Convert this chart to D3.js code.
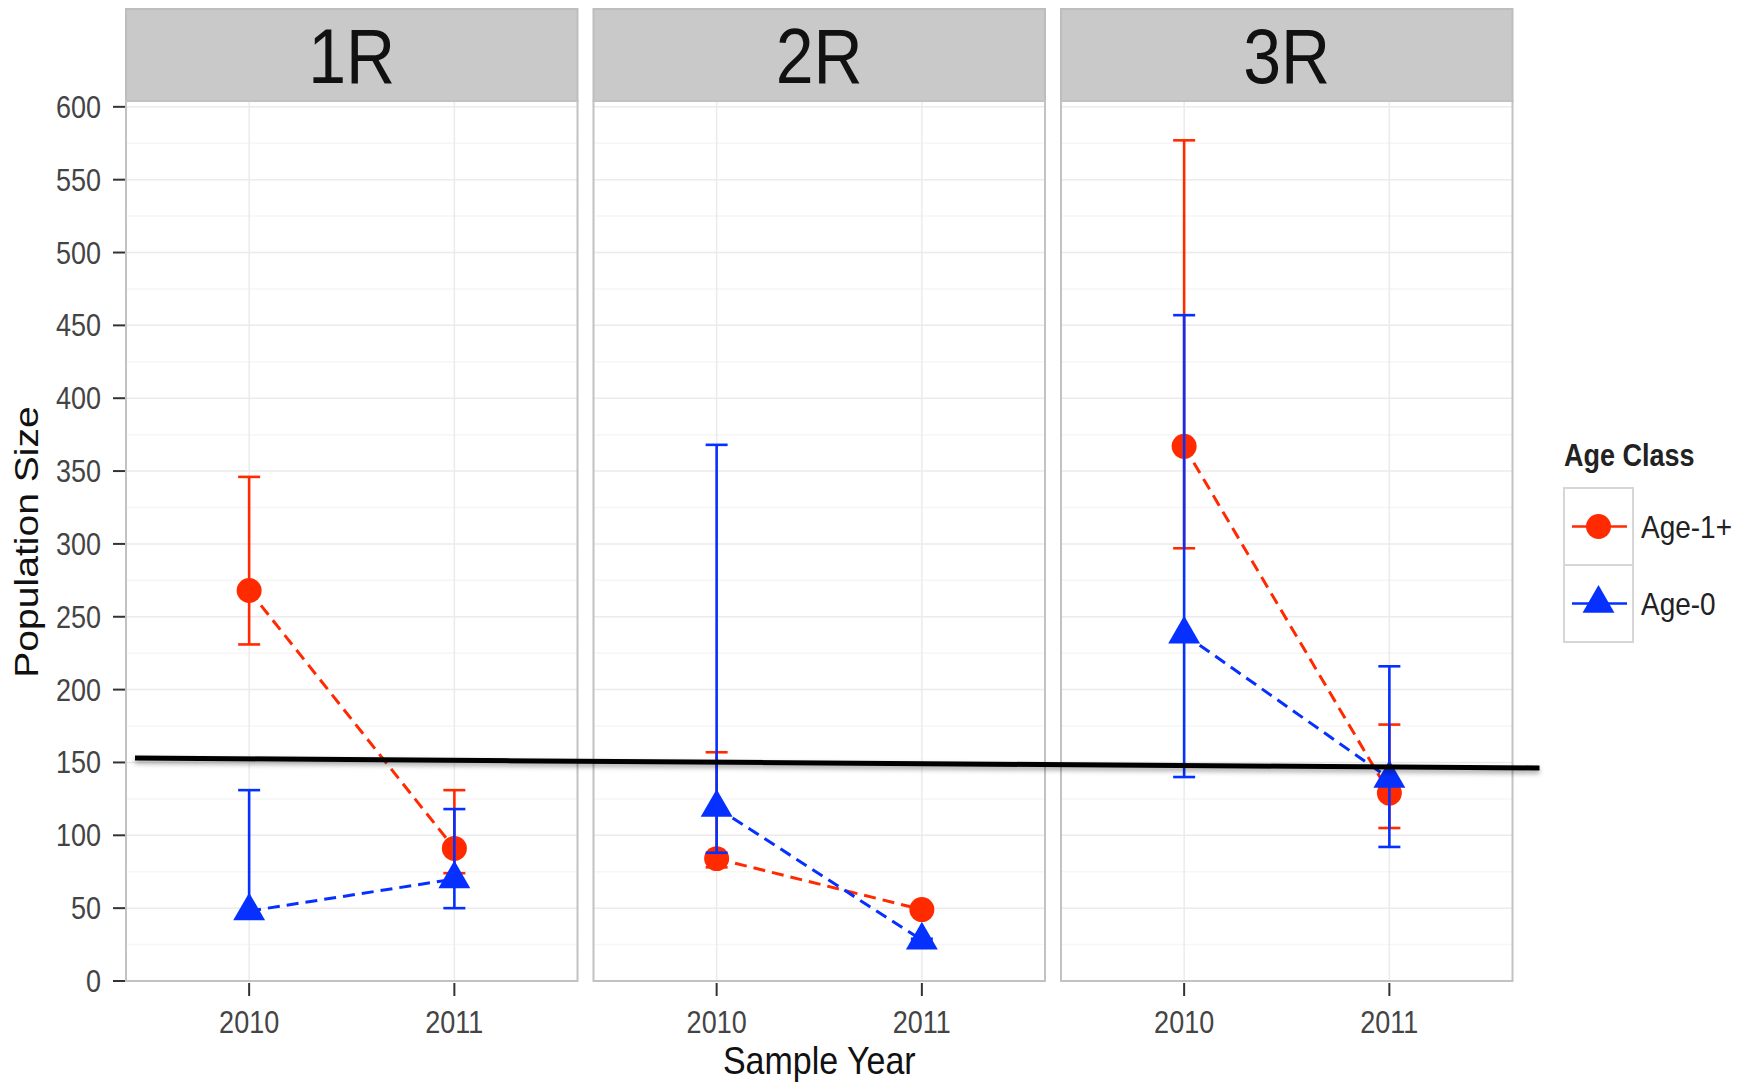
<!DOCTYPE html>
<head>
<meta charset="utf-8">
<title>Population Size by Age Class</title>
<script src="https://d3js.org/d3.v7.min.js"></script>
<style>
    body { margin: 0; background: #fff; }
    svg { display: block; font-family: "Liberation Sans", Arial, sans-serif; }
    .grid-major { stroke: #ebebeb; stroke-width: 1.5; }
    .grid-minor { stroke: #f6f6f6; stroke-width: 1.5; }
    .frame { fill: none; stroke: #c2c2c2; stroke-width: 2; }
    .strip { fill: #c9c9c9; stroke: #bdbdbd; stroke-width: 2; }
    .tick { stroke: #333; stroke-width: 2; }
    .ticklab { fill: #444; font-size: 27px; }
    .axtitle { fill: #111; font-size: 34px; }
</style>
</head>
<body>
<script>
    var width = 1748,
        height = 1086;

    // data
    var sites = ["1R", "2R", "3R"];
    var years = ["2010", "2011"];
    var ageClasses = ["Age-1+", "Age-0"];

    // [site][year]
    var age1Mean = [[268, 91], [84, 49], [367, 129]];
    var age1Lo   = [[231, 74], [78, 46], [297, 105]];
    var age1Hi   = [[346, 131], [157, 51], [577, 176]];

    var age0Mean = [[48, 70], [119, 28], [238, 139]];
    var age0Lo   = [[46, 50], [88, 27], [140, 92]];
    var age0Hi   = [[131, 118], [368, 29], [457, 216]];

    var yTicks = [0, 50, 100, 150, 200, 250, 300, 350, 400, 450, 500, 550, 600];
    var yMinor = [25, 75, 125, 175, 225, 275, 325, 375, 425, 475, 525, 575];

    // hand-drawn threshold line, value at left and right end
    var thresholdLine = [153, 146.2];

    var colors = ["#ff2a00", "#0530ff"];
    var SY = 1.15; // source image is stretched vertically, text too

    var series = [
        {name: ageClasses[0], mean: age1Mean, lo: age1Lo, hi: age1Hi, color: colors[0], shape: d3.symbolCircle, size: 490},
        {name: ageClasses[1], mean: age0Mean, lo: age0Lo, hi: age0Hi, color: colors[1], shape: d3.symbolTriangle, size: 440}
    ];

    var panelW = 451.5, gap = 16, panelLeft = 126,
        panelTop = 101, panelBottom = 981, stripTop = 9;

    var svg = d3.select("body").append("svg")
        .attr("width", width)
        .attr("height", height);

    var defs = svg.append("defs");
    defs.append("filter").attr("id", "shadow")
        .attr("x", "-5%").attr("y", "-200%").attr("width", "110%").attr("height", "500%")
        .append("feDropShadow")
        .attr("dx", 0).attr("dy", 3).attr("stdDeviation", 2.5)
        .attr("flood-color", "#000").attr("flood-opacity", 0.35);

    var y = d3.scaleLinear().domain([0, 604]).range([panelBottom, panelTop]);
    var x = d3.scalePoint().domain(years).range([0, panelW]).padding(0.6);

    function stext(sel, tx, ty, str, rot) {
        var g = sel.append("g")
            .attr("transform", "translate(" + tx + "," + ty + ") scale(1," + SY + ")" + (rot ? " rotate(" + rot + ")" : ""));
        return g.append("text").text(str);
    }

    sites.forEach(function (site, si) {
        var px = panelLeft + si * (panelW + gap);
        var g = svg.append("g").attr("transform", "translate(" + px + ",0)");

        // grid
        g.selectAll(".grid-minor").data(yMinor).enter().append("line")
            .attr("class", "grid-minor")
            .attr("x1", 0).attr("x2", panelW)
            .attr("y1", d => y(d)).attr("y2", d => y(d));
        g.selectAll(".grid-major").data(yTicks).enter().append("line")
            .attr("class", "grid-major")
            .attr("x1", 0).attr("x2", panelW)
            .attr("y1", d => y(d)).attr("y2", d => y(d));
        g.selectAll(".grid-v").data(years).enter().append("line")
            .attr("class", "grid-major")
            .attr("x1", d => x(d)).attr("x2", d => x(d))
            .attr("y1", panelTop).attr("y2", panelBottom);

        // strip
        g.append("rect").attr("class", "strip")
            .attr("x", 0).attr("y", stripTop)
            .attr("width", panelW).attr("height", panelTop - stripTop);
        stext(g, panelW / 2, 83, site)
            .attr("text-anchor", "middle")
            .style("font-size", "68px").style("fill", "#111");

        // x ticks
        years.forEach(function (yr) {
            g.append("line").attr("class", "tick")
                .attr("x1", x(yr)).attr("x2", x(yr))
                .attr("y1", panelBottom + 2).attr("y2", panelBottom + 15);
            stext(g, x(yr), 1033, yr).attr("class", "ticklab").attr("text-anchor", "middle");
        });

        // series: dashed line, error bars, points
        series.forEach(function (s) {
            var pts = years.map(function (yr, yi) {
                return {yr: yr, m: s.mean[si][yi], lo: s.lo[si][yi], hi: s.hi[si][yi]};
            });
            g.append("path")
                .attr("d", d3.line().x(d => x(d.yr)).y(d => y(d.m))(pts))
                .attr("fill", "none")
                .attr("stroke", s.color)
                .attr("stroke-width", 3)
                .attr("stroke-dasharray", "12,7");
            pts.forEach(function (d) {
                var cx = x(d.yr);
                g.append("line").attr("x1", cx).attr("x2", cx)
                    .attr("y1", y(d.lo)).attr("y2", y(d.hi))
                    .attr("stroke", s.color).attr("stroke-width", 2.6);
                [d.lo, d.hi].forEach(function (v) {
                    g.append("line").attr("x1", cx - 11).attr("x2", cx + 11)
                        .attr("y1", y(v)).attr("y2", y(v))
                        .attr("stroke", s.color).attr("stroke-width", 2.6);
                });
            });
            pts.forEach(function (d) {
                g.append("path")
                    .attr("d", d3.symbol(s.shape, s.size)())
                    .attr("transform", "translate(" + x(d.yr) + "," + y(d.m) + ")")
                    .attr("fill", s.color);
            });
        });

        // panel border
        g.append("rect").attr("class", "frame")
            .attr("x", 0).attr("y", panelTop)
            .attr("width", panelW).attr("height", panelBottom - panelTop);
    });

    // y axis
    var ya = svg.append("g");
    yTicks.forEach(function (v) {
        ya.append("line").attr("class", "tick")
            .attr("x1", panelLeft - 13).attr("x2", panelLeft - 1)
            .attr("y1", y(v)).attr("y2", y(v));
        stext(ya, panelLeft - 25, y(v) + 11, v).attr("class", "ticklab").attr("text-anchor", "end");
    });

    // axis titles
    stext(svg, panelLeft + 1.5 * panelW + gap, 1074, "Sample Year")
        .attr("class", "axtitle").attr("text-anchor", "middle");
    stext(svg, 38, 542, "Population Size", -90)
        .attr("class", "axtitle").attr("text-anchor", "middle");

    // threshold line across all panels
    var lineX0 = panelLeft + 9,
        lineX1 = panelLeft + 3 * panelW + 2 * gap + 27;
    svg.append("line")
        .attr("x1", lineX0).attr("x2", lineX1)
        .attr("y1", y(thresholdLine[0])).attr("y2", y(thresholdLine[1]))
        .attr("stroke", "#000").attr("stroke-width", 5)
        .attr("filter", "url(#shadow)");

    // legend
    var lg = svg.append("g").attr("transform", "translate(1564,0)");
    stext(lg, 0, 466, "Age Class")
        .style("font-size", "27px").style("font-weight", "bold").style("fill", "#222");
    series.forEach(function (s, i) {
        var top = 488 + i * 77, cy = top + 38.5;
        lg.append("rect")
            .attr("x", 0).attr("y", top).attr("width", 69).attr("height", 77)
            .attr("fill", "#fff").attr("stroke", "#d6d6d6").attr("stroke-width", 2);
        lg.append("line")
            .attr("x1", 8).attr("x2", 63).attr("y1", cy).attr("y2", cy)
            .attr("stroke", s.color).attr("stroke-width", 2.6);
        lg.append("path")
            .attr("d", d3.symbol(s.shape, s.size)())
            .attr("transform", "translate(34.5," + cy + ")")
            .attr("fill", s.color);
        stext(lg, 77, cy + 11, s.name).style("font-size", "28px").style("fill", "#222");
    });
</script>
</body>
